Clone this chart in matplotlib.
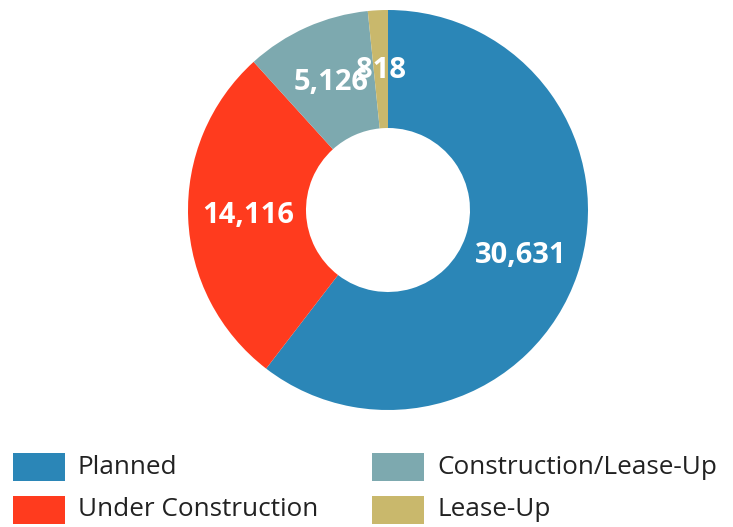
import numpy as np
import matplotlib.pyplot as plt
from matplotlib.patches import Rectangle

categories = ["Planned", "Under Construction", "Construction/Lease-Up", "Lease-Up"]
values = [30631, 14116, 5126, 818]
colors = ["#2B86B7", "#FF3B1E", "#7DA9AF", "#C9B86C"]

plt.rcParams['font.family'] = ['Open Sans', 'DejaVu Sans']

fig = plt.figure(figsize=(7.33, 5.27), dpi=100)
W, H = 733, 527
cx, cy, R = 388, 210, 200
ax = fig.add_axes([(cx - R) / W, (H - cy - R) / H, 2 * R / W, 2 * R / H])

wedges, _ = ax.pie(values, colors=colors, startangle=90, counterclock=False,
                   radius=1.0, wedgeprops=dict(width=0.59, linewidth=0))
ax.set_xlim(-1, 1)
ax.set_ylim(-1, 1)
ax.set_aspect('equal')

for w, v in zip(wedges, values):
    ang = np.deg2rad((w.theta1 + w.theta2) / 2)
    r = 0.70
    ax.text(r * np.cos(ang), r * np.sin(ang), f"{v:,}", ha='center', va='center',
            color='white', fontsize=21, fontweight='bold')

# legend: two columns of colour swatches with labels
rows_y = [467, 510]
cols_x = [13, 372]
for i, (name, col) in enumerate(zip(categories, colors)):
    c, r = i // 2, i % 2
    x0, yc = cols_x[c], rows_y[r]
    fig.add_artist(Rectangle((x0 / W, (H - yc - 14) / H), 52 / W, 28 / H,
                             transform=fig.transFigure, color=col, linewidth=0))
    fig.text((x0 + 65) / W, (H - yc) / H, name, ha='left', va='center',
             fontsize=18.8, color='#222222')

fig.savefig("out.png", dpi=100)
